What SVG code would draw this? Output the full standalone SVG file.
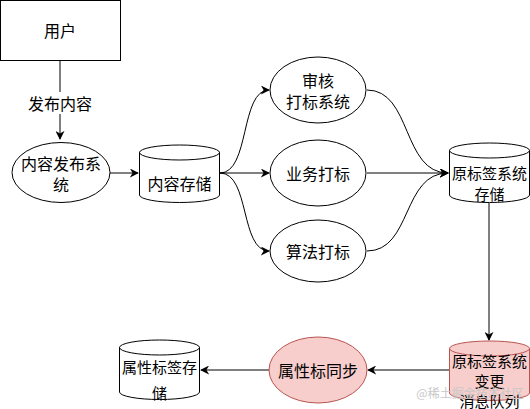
<svg xmlns="http://www.w3.org/2000/svg" width="530" height="409" viewBox="0 0 530 409">
<style>
text{font-family:"Noto Sans CJK SC","Liberation Sans",sans-serif;font-size:16px;fill:#000;text-anchor:middle;dominant-baseline:central}
.n{fill:#fff;stroke:#000;stroke-width:1}
.p{fill:#f8cecc;stroke:#b85450;stroke-width:1}
.e{fill:none;stroke:#000;stroke-width:1;marker-end:url(#a)}
.s{font-size:15px}
.wm{font-size:12px;fill:#c8c8c8}
</style>
<defs>
<marker id="a" viewBox="0 0 10 10" refX="9" refY="5" markerWidth="9" markerHeight="9" markerUnits="userSpaceOnUse" orient="auto">
<path d="M0,0 L10,5 L0,10 L3,5 z" fill="#000"/>
</marker>
</defs>
<g id="connectors">
<path class="e" d="M60,60 V139"/>
<path class="e" d="M110,173 H138"/>
<path class="e" d="M220,173 C250,173 240,90 269,90"/>
<path class="e" d="M220,173 H269"/>
<path class="e" d="M220,173 C250,173 240,251 269,251"/>
<path class="e" d="M367,90 C412,90 402,173 448,173"/>
<path class="e" d="M367,173 H448"/>
<path class="e" d="M367,251 C412,251 402,173 448,173"/>
<path class="e" d="M489,203 V340"/>
<path class="e" d="M449,370 H368"/>
<path class="e" d="M269,370 H201"/>
</g>
<g id="label-publish"><rect x="22" y="92" width="76" height="22" fill="#fff"/><text x="60" y="103">发布内容</text></g>
<g id="user"><rect class="n" x="0.5" y="0.5" width="120" height="60"/><text x="60" y="30">用户</text></g>
<g id="publish-system"><ellipse class="n" cx="61" cy="172.5" rx="49" ry="30"/><text x="61" y="163">内容发布系</text><text x="61" y="184">统</text></g>
<g id="content-store">
<path class="n" d="M139.5,152.5 A40,7.5 0 0 1 219.5,152.5 V195 A40,7.5 0 0 1 139.5,195 Z"/>
<path fill="none" stroke="#000" d="M139.5,152.5 A40,7.5 0 0 0 219.5,152.5"/>
<text x="179.5" y="183">内容存储</text></g>
<g id="audit"><ellipse class="n" cx="318" cy="90" rx="48" ry="33"/><text x="318" y="80">审核</text><text x="318" y="101">打标系统</text></g>
<g id="business"><ellipse class="n" cx="318" cy="173" rx="48" ry="33"/><text x="318" y="173">业务打标</text></g>
<g id="algo"><ellipse class="n" cx="318" cy="251" rx="48" ry="31"/><text x="318" y="251">算法打标</text></g>
<g id="raw-store">
<path class="n" d="M449.5,150.5 A40,7.5 0 0 1 529.5,150.5 V195 A40,7.5 0 0 1 449.5,195 Z"/>
<path fill="none" stroke="#000" d="M449.5,150.5 A40,7.5 0 0 0 529.5,150.5"/>
<text class="s" x="489.5" y="172">原标签系统</text><text class="s" x="489.5" y="193">存储</text></g>
<g id="mq">
<path class="p" d="M449.5,348.5 A40,7.5 0 0 1 529.5,348.5 V393 A40,7.5 0 0 1 449.5,393 Z"/>
<path fill="none" stroke="#b85450" d="M449.5,348.5 A40,7.5 0 0 0 529.5,348.5"/>
<text class="s" x="489.5" y="360">原标签系统</text><text class="s" x="489.5" y="380">变更</text><text class="s" x="489.5" y="400">消息队列</text></g>
<g id="sync"><ellipse class="p" cx="318" cy="370" rx="49" ry="33"/><text x="318" y="370">属性标同步</text></g>
<g id="attr-store">
<path class="n" d="M119.5,347.5 A40,7.5 0 0 1 199.5,347.5 V392 A40,7.5 0 0 1 119.5,392 Z"/>
<path fill="none" stroke="#000" d="M119.5,347.5 A40,7.5 0 0 0 199.5,347.5"/>
<text class="s" x="159.5" y="366">属性标签存</text><text class="s" x="159.5" y="392">储</text></g>
<text class="wm" x="470" y="392">@稀土掘金技术社区</text>
</svg>
